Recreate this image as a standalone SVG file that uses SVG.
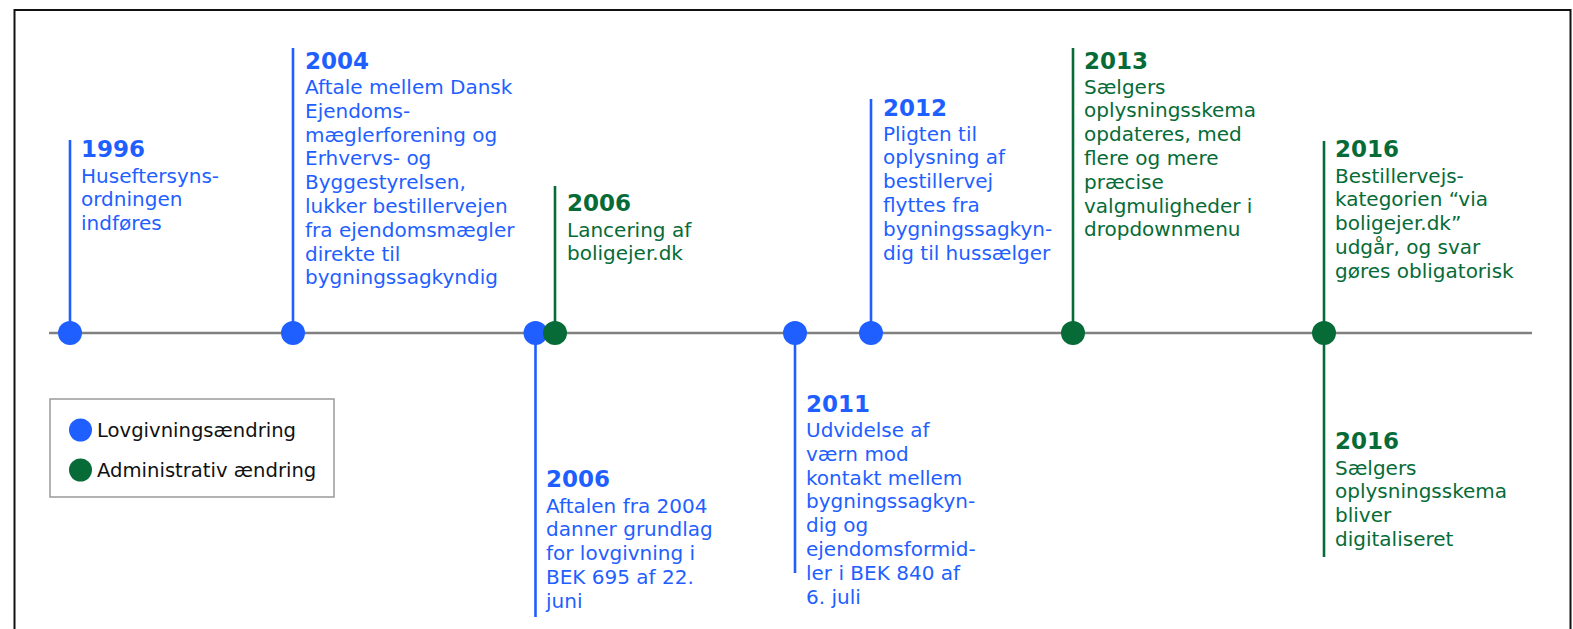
<svg xmlns="http://www.w3.org/2000/svg" width="1573" height="629" viewBox="0 0 1573 629">
  <style>
    .frame { fill: #ffffff; stroke: #111111; stroke-width: 2; }
    .axis { stroke: #808080; stroke-width: 2.6; }
    .stem { stroke-width: 2.6; }
    .law .stem { stroke: #1f5fff; }
    .law .dot { fill: #1f5fff; }
    .law text { fill: #1f5fff; }
    .adm .stem { stroke: #066b37; }
    .adm .dot { fill: #066b37; }
    .adm text { fill: #066b37; }
    text { font-family: "DejaVu Sans", Verdana, sans-serif; font-size: 20px; }
    .year { font-size: 23px; font-weight: bold; }
    .legend-box { fill: #ffffff; stroke: #9a9a9a; stroke-width: 1.5; }
    .legend-label { fill: #111111; font-size: 19.6px; }
  </style>

  <!-- outer frame (bottom edge runs past the canvas) -->
  <rect class="frame" x="14.5" y="10" width="1556" height="640"/>

  <!-- time axis -->
  <g id="connectors">
    <line class="axis" x1="49" y1="333" x2="1532" y2="333"/>
  </g>

  <!-- 1996 -->
  <g id="event-1996" class="law">
    <line class="stem" x1="70" y1="140" x2="70" y2="333"/>
    <circle class="dot" cx="70" cy="333" r="12"/>
    <text x="81" y="157"><tspan class="year">1996</tspan>
      <tspan x="81" y="182.5">Huseftersyns-</tspan>
      <tspan x="81" y="206.3">ordningen</tspan>
      <tspan x="81" y="230.1">indføres</tspan>
    </text>
  </g>

  <!-- 2004 -->
  <g id="event-2004" class="law">
    <line class="stem" x1="293" y1="48" x2="293" y2="333"/>
    <circle class="dot" cx="293" cy="333" r="12"/>
    <text x="305" y="68.5"><tspan class="year">2004</tspan>
      <tspan x="305" y="94">Aftale mellem Dansk</tspan>
      <tspan x="305" y="117.8">Ejendoms-</tspan>
      <tspan x="305" y="141.6">mæglerforening og</tspan>
      <tspan x="305" y="165.4">Erhvervs- og</tspan>
      <tspan x="305" y="189.2">Byggestyrelsen,</tspan>
      <tspan x="305" y="213">lukker bestillervejen</tspan>
      <tspan x="305" y="236.8">fra ejendomsmægler</tspan>
      <tspan x="305" y="260.6">direkte til</tspan>
      <tspan x="305" y="284.4">bygningssagkyndig</tspan>
    </text>
  </g>

  <!-- 2006, legislation (below axis) -->
  <g id="event-2006-law" class="law">
    <line class="stem" x1="535.5" y1="333" x2="535.5" y2="617"/>
    <circle class="dot" cx="535.5" cy="333" r="12"/>
    <text x="546" y="487"><tspan class="year">2006</tspan>
      <tspan x="546" y="512.5">Aftalen fra 2004</tspan>
      <tspan x="546" y="536.3">danner grundlag</tspan>
      <tspan x="546" y="560.1">for lovgivning i</tspan>
      <tspan x="546" y="583.9">BEK 695 af 22.</tspan>
      <tspan x="546" y="607.7">juni</tspan>
    </text>
  </g>

  <!-- 2006, administrative (above axis) -->
  <g id="event-2006-adm" class="adm">
    <line class="stem" x1="555" y1="186" x2="555" y2="333"/>
    <circle class="dot" cx="555" cy="333" r="12"/>
    <text x="567" y="211"><tspan class="year">2006</tspan>
      <tspan x="567" y="236.5">Lancering af</tspan>
      <tspan x="567" y="260.3">boligejer.dk</tspan>
    </text>
  </g>

  <!-- 2011 -->
  <g id="event-2011" class="law">
    <line class="stem" x1="795" y1="333" x2="795" y2="573"/>
    <circle class="dot" cx="795" cy="333" r="12"/>
    <text x="806" y="412"><tspan class="year">2011</tspan>
      <tspan x="806" y="437">Udvidelse af</tspan>
      <tspan x="806" y="460.8">værn mod</tspan>
      <tspan x="806" y="484.6">kontakt mellem</tspan>
      <tspan x="806" y="508.4">bygningssagkyn-</tspan>
      <tspan x="806" y="532.2">dig og</tspan>
      <tspan x="806" y="556">ejendomsformid-</tspan>
      <tspan x="806" y="579.8">ler i BEK 840 af</tspan>
      <tspan x="806" y="603.6">6. juli</tspan>
    </text>
  </g>

  <!-- 2012 -->
  <g id="event-2012" class="law">
    <line class="stem" x1="871" y1="99" x2="871" y2="333"/>
    <circle class="dot" cx="871" cy="333" r="12"/>
    <text x="883" y="116"><tspan class="year">2012</tspan>
      <tspan x="883" y="140.5">Pligten til</tspan>
      <tspan x="883" y="164.3">oplysning af</tspan>
      <tspan x="883" y="188.1">bestillervej</tspan>
      <tspan x="883" y="211.9">flyttes fra</tspan>
      <tspan x="883" y="235.7">bygningssagkyn-</tspan>
      <tspan x="883" y="259.5">dig til hussælger</tspan>
    </text>
  </g>

  <!-- 2013 -->
  <g id="event-2013" class="adm">
    <line class="stem" x1="1073" y1="48" x2="1073" y2="333"/>
    <circle class="dot" cx="1073" cy="333" r="12"/>
    <text x="1084" y="68.5"><tspan class="year">2013</tspan>
      <tspan x="1084" y="93.5">Sælgers</tspan>
      <tspan x="1084" y="117.3">oplysningsskema</tspan>
      <tspan x="1084" y="141.1">opdateres, med</tspan>
      <tspan x="1084" y="164.9">flere og mere</tspan>
      <tspan x="1084" y="188.7">præcise</tspan>
      <tspan x="1084" y="212.5">valgmuligheder i</tspan>
      <tspan x="1084" y="236.3">dropdownmenu</tspan>
    </text>
  </g>

  <!-- 2016, above axis -->
  <g id="event-2016-a" class="adm">
    <line class="stem" x1="1324" y1="141" x2="1324" y2="333"/>
    <text x="1335" y="157"><tspan class="year">2016</tspan>
      <tspan x="1335" y="182.5">Bestillervejs-</tspan>
      <tspan x="1335" y="206.3">kategorien “via</tspan>
      <tspan x="1335" y="230.1">boligejer.dk”</tspan>
      <tspan x="1335" y="253.9">udgår, og svar</tspan>
      <tspan x="1335" y="277.7">gøres obligatorisk</tspan>
    </text>
  </g>

  <!-- 2016, below axis -->
  <g id="event-2016-b" class="adm">
    <line class="stem" x1="1324" y1="333" x2="1324" y2="557"/>
    <circle class="dot" cx="1324" cy="333" r="12"/>
    <text x="1335" y="449"><tspan class="year">2016</tspan>
      <tspan x="1335" y="474.5">Sælgers</tspan>
      <tspan x="1335" y="498.3">oplysningsskema</tspan>
      <tspan x="1335" y="522.1">bliver</tspan>
      <tspan x="1335" y="545.9">digitaliseret</tspan>
    </text>
  </g>

  <!-- legend -->
  <g id="legend">
    <rect class="legend-box" x="50" y="399" width="284" height="98"/>
    <g class="law"><circle class="dot" cx="80.5" cy="430" r="11.5"/></g>
    <text class="legend-label" x="97" y="437">Lovgivningsændring</text>
    <g class="adm"><circle class="dot" cx="80.5" cy="470" r="11.5"/></g>
    <text class="legend-label" x="97" y="477">Administrativ ændring</text>
  </g>
</svg>
